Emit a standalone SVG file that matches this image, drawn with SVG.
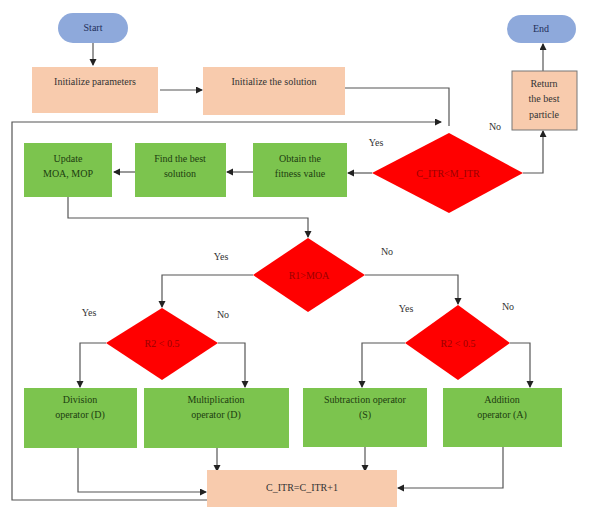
<svg xmlns="http://www.w3.org/2000/svg" width="601" height="511" viewBox="0 0 601 511">
<defs>
<marker id="ah" markerWidth="8" markerHeight="8" refX="6" refY="3.5" orient="auto" markerUnits="userSpaceOnUse">
<path d="M0,0 L7,3.5 L0,7 Z" fill="#222"/>
</marker>
<style>
.t{font-family:"Liberation Serif","Times New Roman",serif;font-size:10px;fill:#333;text-anchor:middle}
.tg{font-family:"Liberation Serif","Times New Roman",serif;font-size:10px;fill:#1d3d10;text-anchor:middle}
.td{font-family:"Liberation Serif","Times New Roman",serif;font-size:10px;fill:#9a0000;text-anchor:middle}
.tb{font-family:"Liberation Serif","Times New Roman",serif;font-size:10px;fill:#1f2f5a;text-anchor:middle}
.lb{font-family:"Liberation Serif","Times New Roman",serif;font-size:10px;fill:#333;text-anchor:middle}
.peach{fill:#F8CBAD}
.peachs{fill:#F8CBAD;stroke:#777;stroke-width:1}
.green{fill:#7CC44E}
.red{fill:#FF0000}
.blue{fill:#8EA9DB}
.c{fill:none;stroke:#555;stroke-width:1.2;marker-end:url(#ah)}
.cn{fill:none;stroke:#555;stroke-width:1.2}
</style>
</defs>

<g id="connectors">
<path class="c" d="M93,43 V65"/>
<path class="c" d="M160,90 H202"/>
<path class="cn" d="M345,88 H449 V126"/>
<path class="c" d="M207,500 H12 V122 H441"/>
<path class="c" d="M372,173 H348"/>
<path class="c" d="M523,173 H543 V131"/>
<path class="c" d="M543,71 V44"/>
<path class="c" d="M253,172 H227"/>
<path class="c" d="M135,172 H114"/>
<path class="c" d="M68,197 V218 H308 V237"/>
<path class="c" d="M365,275 H458 V304"/>
<path class="c" d="M253,275 H162 V307"/>
<path class="c" d="M106,343 H80 V387"/>
<path class="c" d="M218,343 H245 V387"/>
<path class="c" d="M405,343 H362 V387"/>
<path class="c" d="M510,343 H530 V387"/>
<path class="c" d="M78,448 V492 H206"/>
<path class="c" d="M217,448 V471"/>
<path class="c" d="M365,447 V471"/>
<path class="c" d="M503,447 V488 H398"/>
</g>

<g id="start"><rect class="blue" x="58" y="13" width="70" height="30" rx="15"/><text class="tb" x="93" y="31">Start</text></g>
<g id="init-params"><rect class="peach" x="32" y="67" width="126" height="46"/><text class="t" x="95" y="85">Initialize parameters</text></g>
<g id="init-solution"><rect class="peach" x="203" y="67" width="142" height="48"/><text class="t" x="274" y="85">Initialize the solution</text></g>
<g id="end"><rect class="blue" x="507" y="15" width="69" height="28" rx="14"/><text class="tb" x="541" y="32">End</text></g>
<g id="return-best"><rect class="peachs" x="512" y="71" width="65" height="59"/><text class="t" x="544" y="87">Return</text><text class="t" x="544" y="102">the best</text><text class="t" x="544" y="118">particle</text></g>
<g id="cond-itr"><polygon class="red" points="449,133 523,173 449,213 372,173"/><text class="td" x="448" y="177">C_ITR&lt;M_ITR</text></g>
<g id="obtain-fitness"><rect class="green" x="253" y="143" width="94" height="54"/><text class="tg" x="300" y="162">Obtain the</text><text class="tg" x="300" y="177">fitness value</text></g>
<g id="find-best"><rect class="green" x="135" y="143" width="91" height="54"/><text class="tg" x="180" y="162">Find the best</text><text class="tg" x="180" y="177">solution</text></g>
<g id="update"><rect class="green" x="24" y="143" width="88" height="54"/><text class="tg" x="68" y="162">Update</text><text class="tg" x="68" y="177">MOA, MOP</text></g>
<g id="cond-moa"><polygon class="red" points="308,238 365,275 308,312 253,275"/><text class="td" x="309" y="279">R1&gt;MOA</text></g>
<g id="cond-r2-left"><polygon class="red" points="162,308 218,343 162,380 106,343"/><text class="td" x="162" y="347">R2 &lt; 0.5</text></g>
<g id="cond-r2-right"><polygon class="red" points="458,305 510,343 458,380 405,343"/><text class="td" x="458" y="347">R2 &lt; 0.5</text></g>
<g id="division"><rect class="green" x="24" y="388" width="113" height="60"/><text class="tg" x="80" y="403">Division</text><text class="tg" x="80" y="418">operator (D)</text></g>
<g id="multiplication"><rect class="green" x="144" y="388" width="145" height="60"/><text class="tg" x="216" y="403">Multiplication</text><text class="tg" x="216" y="418">operator (D)</text></g>
<g id="subtraction"><rect class="green" x="303" y="388" width="124" height="59"/><text class="tg" x="365" y="403">Subtraction operator</text><text class="tg" x="365" y="418">(S)</text></g>
<g id="addition"><rect class="green" x="443" y="388" width="119" height="59"/><text class="tg" x="502" y="403">Addition</text><text class="tg" x="502" y="418">operator (A)</text></g>
<g id="increment"><rect class="peach" x="207" y="470" width="190" height="37"/><text class="t" x="302" y="491">C_ITR=C_ITR+1</text></g>

<g id="labels">
<text class="lb" x="376" y="146">Yes</text>
<text class="lb" x="495" y="130">No</text>
<text class="lb" x="221" y="260">Yes</text>
<text class="lb" x="387" y="255">No</text>
<text class="lb" x="89" y="316">Yes</text>
<text class="lb" x="223" y="318">No</text>
<text class="lb" x="406" y="312">Yes</text>
<text class="lb" x="508" y="310">No</text>
</g>
</svg>
